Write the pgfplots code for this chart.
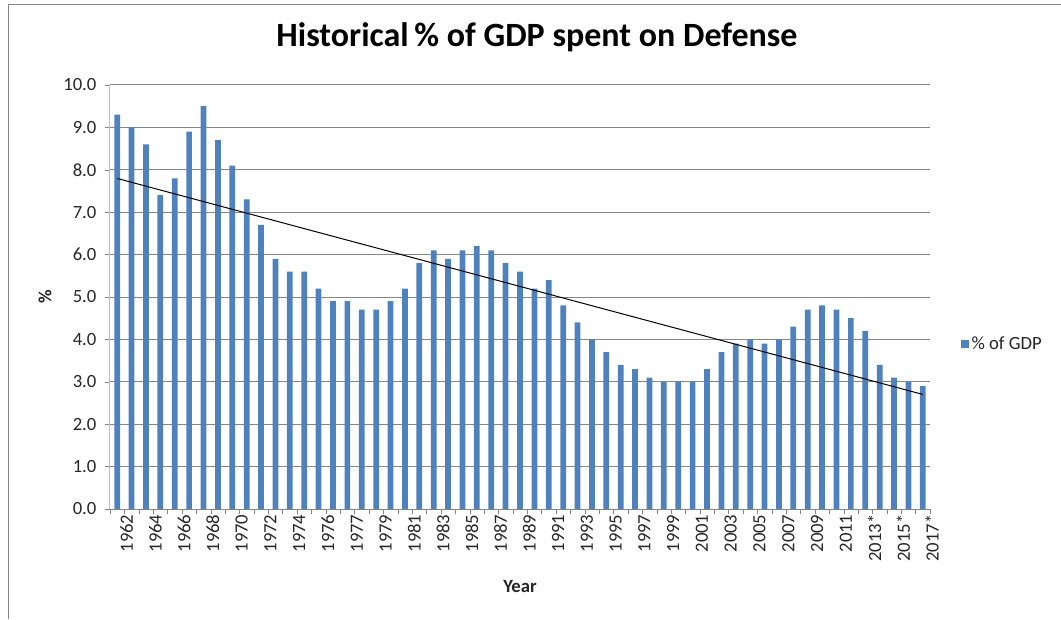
\documentclass[border=0pt]{standalone}
\usepackage{fontspec}
\setmainfont{Carlito}
\usepackage{pgfplots}
\usepackage{pgfplotstable}
\pgfplotsset{compat=1.18}

\definecolor{barblue}{HTML}{4F81BD}
\definecolor{gridgray}{HTML}{868686}
\definecolor{axisgray}{HTML}{BFBFBF}
\definecolor{txt}{HTML}{262626}

% idx = category position (15 = transition quarter, no label)
\pgfplotstableread{
idx v
0 9.3
1 9.0
2 8.6
3 7.4
4 7.8
5 8.9
6 9.5
7 8.7
8 8.1
9 7.3
10 6.7
11 5.9
12 5.6
13 5.6
14 5.2
15 4.9
16 4.9
17 4.7
18 4.7
19 4.9
20 5.2
21 5.8
22 6.1
23 5.9
24 6.1
25 6.2
26 6.1
27 5.8
28 5.6
29 5.2
30 5.4
31 4.8
32 4.4
33 4.0
34 3.7
35 3.4
36 3.3
37 3.1
38 3.0
39 3.0
40 3.0
41 3.3
42 3.7
43 3.9
44 4.0
45 3.9
46 4.0
47 4.3
48 4.7
49 4.8
50 4.7
51 4.5
52 4.2
53 3.4
54 3.1
55 3.0
56 2.9
}\gdp

\begin{document}
\begin{tikzpicture}
\useasboundingbox (0pt,0pt) rectangle (795.75pt,464.25pt);
\draw[gridgray,line width=0.75pt] (6pt,0pt) -- (6pt,461pt) -- (795.75pt,461pt);
\begin{axis}[
    at={(82.5pt,82.5pt)}, anchor=south west,
    scale only axis,
    width=615pt, height=318pt,
    xmin=-0.5, xmax=56.5,
    ymin=0, ymax=10,
    ytick={0,1,...,10},
    xtick={0,2,...,56},
    xticklabels={1962,1964,1966,1968,1970,1972,1974,1976,1977,1979,1981,1983,1985,1987,1989,1991,1993,1995,1997,1999,2001,2003,2005,2007,2009,2011,2013*,2015*,2017*},
    minor xtick={-0.5,0.5,...,56.5},
    major x tick style={draw=none},
    minor x tick style={gridgray},
    minor tick length=4pt,
    major tick length=4pt,
    tick align=outside,
    tick pos=left,
    ytick style={gridgray},
    ymajorgrids,
    grid style={gridgray, line width=0.75pt},
    axis x line*=bottom,
    axis y line*=left,
    x axis line style={gridgray, line width=0.75pt, -},
    y axis line style={axisgray, line width=0.75pt, -},
    /pgf/number format/assume math mode=true,
    yticklabel={\pgfmathprintnumber[fixed,fixed zerofill,precision=1]{\tick}},
    ticklabel style={font=\fontsize{14}{16}\selectfont, text=txt},
    yticklabel style={inner sep=0pt, xshift=-6pt},
    xticklabel style={rotate=90, anchor=east, inner sep=0pt, yshift=-7pt},
    title={Historical\,\% of GDP spent on Defense},
    title style={font=\bfseries\fontsize{25.5}{30}\selectfont, at={(axis description cs:0.5,1)}, anchor=center, yshift=30pt, xshift=12.75pt},
    xlabel={Year},
    every axis x label/.style={at={(axis description cs:0.5,0)}, anchor=center, yshift=-58.5pt, font=\bfseries\fontsize{14}{16}\selectfont, text=txt},
    ylabel={\%},
    every axis y label/.style={at={(axis description cs:-0.0793,0.5)}, anchor=center, rotate=90, font=\bfseries\fontsize{14}{16}\selectfont, text=txt},
    legend style={at={(axis description cs:1,0.5)}, anchor=west, xshift=23pt, yshift=-35pt, draw=none, fill=none, font=\fontsize{14}{16}\selectfont, text=txt, inner sep=0pt},
    legend image code/.code={\fill[barblue] (0pt,-3pt) rectangle (6pt,3pt);},
]
\addplot[ybar, bar width=4.3pt, bar shift=0pt, fill=barblue, draw=none] table[x=idx, y=v] {\gdp};
\addlegendentry{\% of GDP}
\addplot[black, line width=0.75pt, forget plot] table[x=idx, y={create col/linear regression={y=v}}] {\gdp};
\end{axis}
\end{tikzpicture}
\end{document}
